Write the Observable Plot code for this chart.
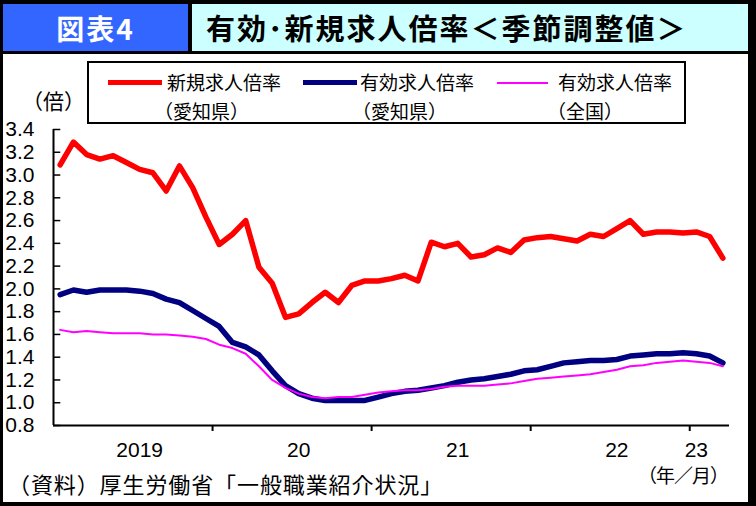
<!DOCTYPE html>
<html><head><meta charset="utf-8">
<script src="https://cdn.jsdelivr.net/npm/d3@7"></script>
<script src="https://cdn.jsdelivr.net/npm/@observablehq/plot@0.6"></script>
<style>
body{margin:0;background:#fff;}
#wrap{position:relative;width:756px;height:506px;overflow:hidden;background:#fff;font-family:"Noto Sans CJK JP","Noto Sans",sans-serif;}
.box{position:absolute;}
.t{position:absolute;white-space:nowrap;line-height:1;color:#000;}
#chart{position:absolute;left:0;top:0;}
</style></head><body>
<div id="wrap">
  <div id="chart"></div>
  <div class="box" style="left:0;top:0;width:756px;height:4px;background:#000"></div>
  <div class="box" style="left:0;top:0;width:3px;height:506px;background:#000"></div>
  <div class="box" style="left:748px;top:0;width:8px;height:506px;background:#000"></div>
  <div class="box" style="left:0;top:502px;width:756px;height:4px;background:#000"></div>
  <div class="box" style="left:3px;top:4px;width:185px;height:47px;background:#3366ff"></div>
  <div class="box" style="left:188px;top:4px;width:4px;height:47px;background:#000"></div>
  <div class="box" style="left:192px;top:4px;width:556px;height:47px;background:#ccffff"></div>
  <div class="box" style="left:0;top:51px;width:756px;height:3px;background:#000"></div>
  <div class="t" id="fig" style="left:3px;width:185px;text-align:center;top:14px;font-size:28px;font-weight:bold;color:#fff;letter-spacing:2px">図表4</div>
  <div class="t" id="title" style="left:206px;top:13px;font-size:29px;font-weight:bold;letter-spacing:2px">有効･新規求人倍率＜季節調整値＞</div>
  <div class="box" style="left:87px;top:61px;width:599px;height:63px;border:2px solid #000;box-sizing:border-box;background:#fff"></div>
  <div class="box" style="left:108px;top:80px;width:54px;height:5px;background:#ff0000"></div>
  <div class="t" style="left:167px;top:72px;font-size:19px">新規求人倍率</div>
  <div class="t" style="left:154px;top:101px;font-size:19px">（愛知県）</div>
  <div class="box" style="left:303px;top:80px;width:54px;height:5px;background:#000080"></div>
  <div class="t" style="left:360px;top:72px;font-size:19px">有効求人倍率</div>
  <div class="t" style="left:352px;top:101px;font-size:19px">（愛知県）</div>
  <div class="box" style="left:497px;top:82px;width:51px;height:2px;background:#ff00ff"></div>
  <div class="t" style="left:558px;top:72px;font-size:19px">有効求人倍率</div>
  <div class="t" style="left:547px;top:101px;font-size:19px">（全国）</div>
  <div class="t" style="left:22px;top:90px;font-size:21px">（倍）</div>
  <div class="t" style="left:638px;top:465px;font-size:19px;letter-spacing:-1px">（年／月）</div>
  <div class="t" style="left:8px;top:472px;font-size:22px;letter-spacing:0.9px">（資料）厚生労働省「一般職業紹介状況」</div>
</div>
<script>
// monthly values, Jan 2019 – Mar 2023
const newAichi = [
  3.09, 3.29, 3.18, 3.14, 3.17, 3.11, 3.05, 3.02, 2.86, 3.08, 2.89, 2.63,
  2.39, 2.48, 2.60, 2.19, 2.05, 1.75, 1.78, 1.88, 1.97, 1.88, 2.03, 2.07,
  2.07, 2.09, 2.12, 2.07, 2.41, 2.37, 2.40, 2.28, 2.30, 2.36, 2.32, 2.43,
  2.45, 2.46, 2.44, 2.42, 2.48, 2.46, 2.53, 2.60, 2.48, 2.50, 2.50, 2.49,
  2.50, 2.46, 2.27
];
const effAichi = [
  1.95, 1.99, 1.97, 1.99, 1.99, 1.99, 1.98, 1.96, 1.91, 1.88, 1.81, 1.74,
  1.67, 1.53, 1.49, 1.42, 1.28, 1.15, 1.08, 1.04, 1.02, 1.02, 1.02, 1.02,
  1.05, 1.08, 1.10, 1.11, 1.13, 1.15, 1.18, 1.20, 1.21, 1.23, 1.25, 1.28,
  1.29, 1.32, 1.35, 1.36, 1.37, 1.37, 1.38, 1.41, 1.42, 1.43, 1.43, 1.44,
  1.43, 1.41, 1.35
];
const effNational = [
  1.64, 1.62, 1.63, 1.62, 1.61, 1.61, 1.61, 1.60, 1.60, 1.59, 1.58, 1.56,
  1.51, 1.48, 1.43, 1.32, 1.20, 1.13, 1.08, 1.05, 1.04, 1.05, 1.05, 1.07,
  1.09, 1.10, 1.11, 1.11, 1.12, 1.14, 1.15, 1.15, 1.15, 1.16, 1.17, 1.19,
  1.21, 1.22, 1.23, 1.24, 1.25, 1.27, 1.29, 1.32, 1.33, 1.35, 1.36, 1.37,
  1.36, 1.35, 1.32
];
const yearLabels = ["2019", "20", "21", "22", "23"];
const yearLabelMonth = [6, 18, 30, 42, 48];   // month index carrying each year label
const yearStartMonth = [12, 24, 36, 48];      // year boundaries (tick marks)
const yTicks = [0.8, 1.0, 1.2, 1.4, 1.6, 1.8, 2.0, 2.2, 2.4, 2.6, 2.8, 3.0, 3.2, 3.4];
const nMonths = newAichi.length;

const mx = (d, i) => i + 0.5;

const chart = Plot.plot({
  width: 756,
  height: 506,
  marginLeft: 53,
  marginRight: 27,
  marginTop: 129,
  marginBottom: 81,
  style: {background: "transparent", fontFamily: "'Liberation Sans', Arial, sans-serif", fontSize: "21px", color: "#000", overflow: "visible"},
  x: {domain: [0, nMonths], axis: null},
  y: {domain: [0.8, 3.4], axis: null},
  marks: [
    Plot.ruleY(yTicks, {x1: 0, x2: 0.55, stroke: "#000", strokeWidth: 1.5}),
    Plot.axisY({ticks: yTicks, tickSize: 0, tickPadding: 19, tickFormat: d3.format(".1f"), fill: "#000"}),
    Plot.axisX({ticks: yearStartMonth, tickSize: 6, tickFormat: () => "", stroke: "#000", strokeWidth: 2}),
    Plot.axisX({ticks: yearLabelMonth.map(m => m + 0.5), tickSize: 0, tickPadding: 17,
      tickFormat: d => yearLabels[yearLabelMonth.indexOf(d - 0.5)], fill: "#000"}),
    Plot.ruleX([0], {stroke: "#000", strokeWidth: 2}),
    Plot.ruleY([0.8], {stroke: "#000", strokeWidth: 2}),
    Plot.line(newAichi, {x: mx, y: d => d, stroke: "#ff0000", strokeWidth: 5.5, strokeLinejoin: "round"}),
    Plot.line(effAichi, {x: mx, y: d => d, stroke: "#000080", strokeWidth: 5.5, strokeLinejoin: "round"}),
    Plot.line(effNational, {x: mx, y: d => d, stroke: "#ff00ff", strokeWidth: 2, strokeLinejoin: "round"})
  ]
});
document.getElementById("chart").appendChild(chart);
</script>
</body></html>
